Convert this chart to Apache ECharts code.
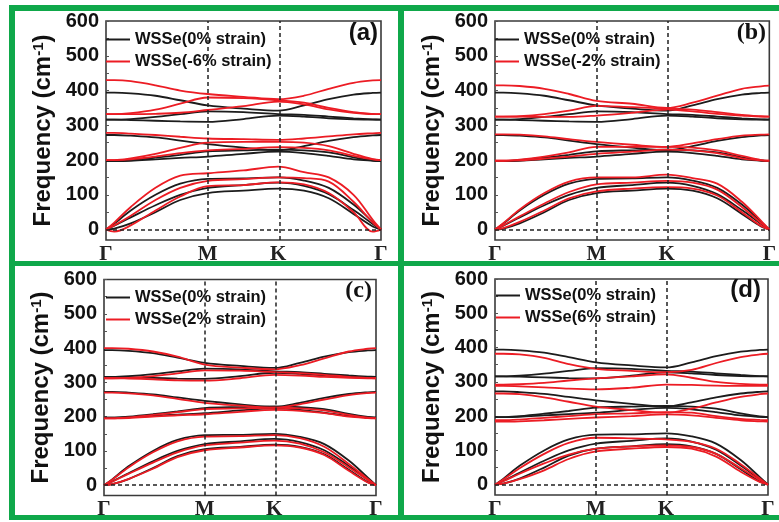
<!DOCTYPE html>
<html>
<head>
<meta charset="utf-8">
<script src="https://cdn.jsdelivr.net/npm/echarts@6/dist/echarts.min.js"></script>
<style>
html,body{margin:0;padding:0;background:#fff;}
#chart{width:779px;height:522px;}
</style>
</head>
<body>
<div id="chart"></div>
<script>
// path coordinate of each sample (Γ=0, M=0.37, K=0.626, Γ=1)
const xPos = [0, 0.03, 0.09, 0.18, 0.27, 0.37, 0.5, 0.626, 0.72, 0.81, 0.9, 0.97, 1];
const xTickPos = [0, 0.37, 0.626, 1];
const xTickLabels = ['Γ', 'M', 'K', 'Γ'];
const yTickValues = [0, 100, 200, 300, 400, 500, 600];
const yMinorTicks = [0, 50, 100, 150, 200, 250, 300, 350, 400, 450, 500, 550, 600];

// 0% strain (black, same in every panel)
const bands0 = [
  [394, 394, 392, 385, 372, 357, 348, 342, 357, 375, 388, 393, 394],
  [316, 316, 318, 324, 332, 340, 338, 332, 330, 325, 320, 317, 316],
  [316, 316, 315, 313, 311, 310, 318, 328, 325, 320, 317, 316, 316],
  [272, 272, 270, 265, 256, 246, 236, 228, 240, 255, 266, 271, 272],
  [197, 197, 200, 207, 215, 225, 228, 230, 228, 222, 208, 199, 197],
  [197, 197, 198, 202, 206, 210, 218, 224, 220, 212, 202, 198, 197],
  [0, 17, 55, 100, 132, 146, 147, 150, 141, 120, 72, 22, 0],
  [0, 11, 35, 70, 100, 120, 128, 135, 126, 102, 56, 16, 0],
  [0, 3, 18, 50, 85, 105, 112, 118, 112, 90, 45, 9, 0]
];
// -6% strain
const bandsM6 = [
  [430, 430, 427, 415, 400, 390, 382, 375, 385, 405, 422, 429, 430],
  [332, 332, 335, 345, 362, 380, 378, 372, 365, 350, 338, 333, 332],
  [332, 332, 332, 333, 336, 344, 355, 368, 360, 346, 336, 332, 332],
  [278, 278, 276, 272, 267, 262, 260, 258, 262, 268, 274, 277, 278],
  [200, 200, 205, 218, 235, 250, 252, 252, 250, 240, 218, 203, 200],
  [200, 200, 202, 210, 220, 228, 232, 237, 235, 228, 212, 202, 200],
  [0, 20, 65, 120, 155, 162, 170, 181, 165, 150, 100, 28, 0],
  [0, 12, 40, 85, 120, 140, 145, 150, 148, 138, 80, 20, 0],
  [0, -6, 12, 55, 95, 125, 128, 136, 130, 105, 50, -6, 0]
];
// -2% strain
const bandsM2 = [
  [415, 415, 413, 405, 390, 370, 362, 350, 365, 385, 405, 412, 414],
  [325, 325, 326, 332, 342, 356, 352, 348, 345, 338, 330, 326, 325],
  [325, 325, 325, 324, 324, 328, 336, 345, 340, 333, 328, 325, 325],
  [274, 274, 273, 268, 260, 252, 244, 238, 248, 260, 270, 273, 274],
  [198, 198, 201, 210, 222, 238, 238, 238, 236, 228, 212, 200, 198],
  [198, 198, 199, 204, 210, 218, 224, 230, 228, 220, 205, 199, 198],
  [0, 18, 58, 105, 138, 150, 150, 158, 148, 132, 80, 25, 0],
  [0, 12, 38, 75, 108, 130, 135, 140, 135, 115, 65, 18, 0],
  [0, 4, 22, 55, 90, 110, 118, 122, 118, 98, 50, 10, 0]
];
// +2% strain
const bandsP2 = [
  [400, 400, 398, 390, 375, 352, 343, 338, 350, 370, 390, 398, 400],
  [312, 312, 313, 318, 326, 335, 334, 330, 327, 322, 316, 313, 312],
  [312, 312, 311, 309, 306, 305, 312, 322, 320, 316, 313, 312, 312],
  [270, 270, 268, 262, 252, 240, 232, 226, 236, 250, 263, 269, 270],
  [195, 195, 198, 205, 213, 222, 224, 226, 224, 218, 205, 197, 195],
  [195, 195, 196, 200, 204, 207, 214, 220, 217, 210, 200, 196, 195],
  [0, 16, 52, 96, 128, 142, 143, 146, 137, 112, 62, 18, 0],
  [0, 10, 33, 66, 96, 116, 124, 130, 121, 96, 52, 15, 0],
  [0, 3, 18, 48, 82, 102, 110, 116, 110, 88, 42, 8, 0]
];
// +6% strain
const bandsP6 = [
  [382, 382, 380, 370, 352, 338, 332, 328, 335, 355, 372, 380, 382],
  [292, 292, 293, 297, 304, 310, 316, 322, 312, 300, 294, 292, 292],
  [288, 288, 287, 284, 280, 278, 283, 292, 291, 289, 288, 288, 288],
  [266, 266, 264, 255, 242, 228, 218, 210, 222, 240, 256, 264, 266],
  [188, 188, 190, 195, 200, 206, 208, 212, 210, 200, 192, 189, 188],
  [184, 184, 185, 188, 192, 196, 200, 205, 202, 195, 188, 185, 184],
  [0, 15, 48, 90, 122, 137, 135, 132, 125, 105, 60, 18, 0],
  [0, 10, 32, 62, 88, 105, 112, 115, 110, 90, 48, 14, 0],
  [0, 3, 16, 42, 75, 97, 105, 110, 105, 82, 38, 8, 0]
];

const blackName = 'WSSe(0% strain)';
const redNames = ['WSSe(-6% strain)', 'WSSe(-2% strain)', 'WSSe(2% strain)', 'WSSe(6% strain)'];
const redBands = [bandsM6, bandsM2, bandsP2, bandsP6];
const panelLabels = ['(a)', '(b)', '(c)', '(d)'];

const BLACK = '#1c1c1c';
const RED = '#ec1c24';
const GREEN = '#0fa84a';

const grids = [
  {left: 106, top: 21, width: 275, height: 219},
  {left: 495, top: 21, width: 276, height: 219},
  {left: 104, top: 279.5, width: 272, height: 216},
  {left: 495, top: 279, width: 273, height: 216}
];
const legendPos = [
  {left: 101, top: 26},
  {left: 490, top: 26},
  {left: 101, top: 284},
  {left: 491, top: 282}
];
const labelPos = [
  {x: 378, y: 33, font: 'Liberation Sans'},
  {x: 766, y: 33, font: 'Liberation Serif'},
  {x: 372, y: 291, font: 'Liberation Serif'},
  {x: 761, y: 290, font: 'Liberation Sans'}
];

function toPairs(vals) { return xPos.map((x, j) => [x, vals[j]]); }

const option = {
  backgroundColor: '#fff',
  animation: false,
  grid: grids.map(g => Object.assign({show: true, borderColor: '#3a3a3a', borderWidth: 1.6, backgroundColor: 'transparent'}, g)),
  xAxis: grids.map((g, i) => ({
    type: 'value', gridIndex: i, min: 0, max: 1,
    axisLine: {show: false},
    splitLine: {show: false},
    axisTick: {show: false},
    axisLabel: {
      customValues: xTickPos,
      formatter: v => { const k = xTickPos.findIndex(p => Math.abs(p - v) < 1e-6); return k >= 0 ? xTickLabels[k] : ''; },
      fontFamily: 'Liberation Serif', fontWeight: 'bold', fontSize: 21, color: '#222', margin: 4
    }
  })),
  yAxis: grids.map((g, i) => ({
    type: 'value', gridIndex: i, min: -30, max: 600,
    axisLine: {show: false},
    splitLine: {show: false},
    axisTick: {show: true, inside: true, length: 3, customValues: yMinorTicks, lineStyle: {color: '#555', width: 1}},
    axisLabel: {
      customValues: yTickValues,
      fontFamily: 'Liberation Sans', fontWeight: 'bold', fontSize: 20, color: '#111', margin: 7
    },
    name: '{a|Frequency (cm}{s|-1}{a|)}',
    nameLocation: 'middle',
    nameGap: 51,
    nameTextStyle: {
      rich: {
        a: {fontFamily: 'Liberation Sans', fontWeight: 'bold', fontSize: 24, color: '#111', verticalAlign: 'bottom'},
        s: {fontFamily: 'Liberation Sans', fontWeight: 'bold', fontSize: 15, color: '#111', verticalAlign: 'top'}
      }
    }
  })),
  legend: grids.map((g, i) => ({
    orient: 'vertical',
    left: legendPos[i].left, top: legendPos[i].top,
    data: [blackName, redNames[i]],
    icon: 'rect', itemWidth: 24, itemHeight: 2, itemGap: 5,
    selectedMode: false,
    textStyle: {fontFamily: 'Liberation Sans', fontWeight: 'bold', fontSize: 16.5, color: '#111', lineHeight: 17}
  })),
  graphic: [
    {type: 'rect', shape: {x: 9, y: 5, width: 6, height: 515}, style: {fill: GREEN}, z: 100},
    {type: 'rect', shape: {x: 398, y: 5, width: 6, height: 515}, style: {fill: GREEN}, z: 100},
    {type: 'rect', shape: {x: 9, y: 5, width: 770, height: 6}, style: {fill: GREEN}, z: 100},
    {type: 'rect', shape: {x: 9, y: 261, width: 770, height: 5}, style: {fill: GREEN}, z: 100},
    {type: 'rect', shape: {x: 9, y: 515, width: 770, height: 5}, style: {fill: GREEN}, z: 100}
  ].concat(panelLabels.map((t, i) => ({
    type: 'text', x: labelPos[i].x, y: labelPos[i].y, z: 100,
    style: {text: t, fill: '#111', align: 'right', verticalAlign: 'middle',
            font: 'bold 24px "' + labelPos[i].font + '"'}
  }))),
  series: []
};

grids.forEach((g, i) => {
  // dashed reference lines
  option.series.push({
    type: 'line', xAxisIndex: i, yAxisIndex: i, data: [], silent: true,
    markLine: {
      silent: true, symbol: 'none', label: {show: false},
      lineStyle: {color: '#222', type: [4, 3], width: 1.5},
      data: [{xAxis: xTickPos[1]}, {xAxis: xTickPos[2]}, {yAxis: 0}]
    }
  });
  bands0.forEach(b => option.series.push({
    type: 'line', name: blackName, xAxisIndex: i, yAxisIndex: i,
    data: toPairs(b), smooth: 0.35, symbol: 'none', showSymbol: false,
    color: BLACK, lineStyle: {color: BLACK, width: 1.8}, z: 2
  }));
  redBands[i].forEach(b => option.series.push({
    type: 'line', name: redNames[i], xAxisIndex: i, yAxisIndex: i,
    data: toPairs(b), smooth: 0.35, symbol: 'none', showSymbol: false,
    color: RED, lineStyle: {color: RED, width: 1.8}, z: 3
  }));
});

const chart = echarts.init(document.getElementById('chart'), null, {renderer: 'canvas'});
chart.setOption(option);
</script>
</body>
</html>
